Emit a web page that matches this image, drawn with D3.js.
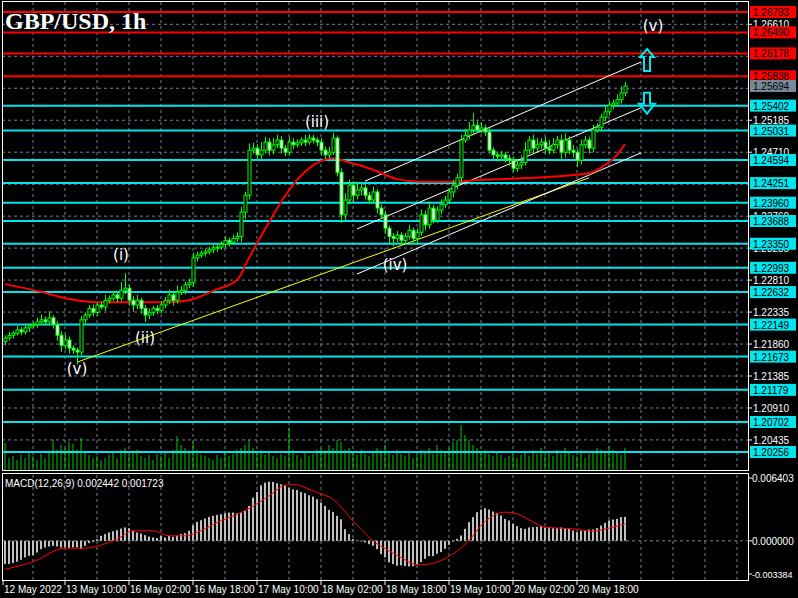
<!DOCTYPE html>
<html>
<head>
<meta charset="utf-8">
<script src="https://cdn.jsdelivr.net/npm/d3@7"></script>
<style>
  body { margin: 0; background: #000; }
  svg { display: block; font-family: 'Liberation Sans', Arial, sans-serif; }
</style>
</head>
<body>
<svg id="chart" width="798" height="598"></svg>
<script>
// hourly closes, 12 May 19:00 .. 20 May 22:00
const firstOpen = 1.2190
const closes = [
  1.2195, 1.2199, 1.2202, 1.2207, 1.2204, 1.2210, 1.2213, 1.2215, 1.2219, 1.2222,
  1.2219, 1.2225, 1.2215, 1.2199, 1.2184, 1.2192, 1.2180, 1.2177, 1.2174, 1.2222,
  1.2229, 1.2239, 1.2233, 1.2244, 1.2241, 1.2251, 1.2254, 1.2259, 1.2254, 1.2266,
  1.2269, 1.2251, 1.2244, 1.2251, 1.2239, 1.2229, 1.2233, 1.2239, 1.2236, 1.2244,
  1.2251, 1.2259, 1.2251, 1.2263, 1.2266, 1.2274, 1.2277, 1.2314, 1.2318, 1.2321,
  1.2323, 1.2326, 1.2329, 1.2330, 1.2334, 1.2340, 1.2337, 1.2343, 1.2346, 1.2382,
  1.2407, 1.2474, 1.2477, 1.2467, 1.2474, 1.2486, 1.2474, 1.2482, 1.2489, 1.2477,
  1.2471, 1.2486, 1.2482, 1.2485, 1.2489, 1.2486, 1.2492, 1.2489, 1.2486, 1.2474,
  1.2467, 1.2471, 1.2492, 1.2441, 1.2378, 1.2400, 1.2422, 1.2407, 1.2415, 1.2418,
  1.2407, 1.2400, 1.2412, 1.2388, 1.2378, 1.2358, 1.2346, 1.2343, 1.2348, 1.2340,
  1.2346, 1.2355, 1.2343, 1.2352, 1.2378, 1.2363, 1.2388, 1.2370, 1.2385, 1.2393,
  1.2400, 1.2412, 1.2422, 1.2433, 1.2489, 1.2496, 1.2504, 1.2511, 1.2504, 1.2507,
  1.2501, 1.2474, 1.2467, 1.2465, 1.2467, 1.2462, 1.2459, 1.2447, 1.2452, 1.2456,
  1.2474, 1.2489, 1.2477, 1.2482, 1.2486, 1.2477, 1.2474, 1.2482, 1.2489, 1.2471,
  1.2489, 1.2474, 1.2471, 1.2459, 1.2482, 1.2489, 1.2477, 1.2504, 1.2508, 1.2523,
  1.2531, 1.2541, 1.2544, 1.2549, 1.2559, 1.25694
]
// wick lengths in pips
const upWick = [
  4, 5, 3, 6, 4, 5, 3, 4, 6, 8,
  5, 10, 4, 5, 6, 8, 5, 4, 3, 6,
  4, 5, 6, 4, 5, 8, 4, 6, 5, 12,
  22, 5, 6, 8, 4, 5, 6, 4, 5, 6,
  5, 8, 4, 10, 6, 5, 6, 8, 5, 4,
  5, 4, 6, 4, 5, 6, 4, 5, 6, 8,
  5, 10, 8, 6, 12, 8, 6, 10, 8, 6,
  5, 8, 6, 5, 4, 8, 6, 5, 4, 6,
  5, 8, 8, 4, 6, 10, 8, 6, 12, 8,
  6, 5, 8, 4, 5, 6, 4, 5, 6, 4,
  5, 8, 4, 6, 8, 6, 10, 5, 6, 8,
  6, 5, 8, 6, 8, 10, 12, 18, 6, 8,
  5, 6, 4, 5, 6, 4, 5, 6, 8, 10,
  12, 6, 8, 10, 6, 8, 12, 10, 6, 8,
  10, 6, 8, 5, 8, 6, 5, 8, 6, 5,
  8, 6, 5, 8, 10, 6
]
const dnWick = [
  6, 4, 5, 3, 5, 4, 6, 4, 5, 4,
  6, 5, 6, 8, 10, 6, 8, 6, 18, 5,
  6, 4, 6, 5, 4, 6, 5, 4, 6, 5,
  6, 8, 10, 6, 8, 10, 6, 5, 6, 4,
  5, 6, 8, 5, 4, 6, 5, 6, 5, 4,
  5, 4, 5, 6, 4, 5, 6, 4, 5, 8,
  10, 6, 5, 8, 6, 5, 8, 6, 5, 8,
  6, 5, 6, 4, 5, 6, 4, 5, 6, 8,
  6, 5, 4, 6, 12, 8, 6, 10, 6, 8,
  6, 5, 6, 8, 6, 8, 10, 12, 6, 8,
  6, 5, 8, 6, 5, 8, 6, 5, 4, 6,
  5, 6, 8, 6, 5, 4, 6, 5, 4, 5,
  6, 5, 6, 8, 5, 6, 8, 6, 5, 6,
  5, 6, 8, 5, 6, 8, 6, 5, 6, 10,
  8, 6, 8, 10, 6, 5, 8, 6, 4, 5,
  6, 5, 6, 5, 6, 5
]
const volumes = [
  27, 12, 14, 10, 15, 12, 18, 14, 10, 16,
  12, 18, 30, 20, 25, 22, 28, 26, 20, 32,
  18, 15, 12, 14, 10, 12, 15, 18, 12, 20,
  22, 15, 18, 20, 14, 12, 15, 10, 16, 14,
  18, 12, 20, 34, 25, 22, 18, 28, 20, 15,
  14, 12, 10, 15, 12, 18, 14, 16, 20, 22,
  25, 30, 22, 18, 20, 15, 18, 14, 12, 16,
  14, 42, 20, 15, 12, 18, 14, 16, 20, 22,
  18, 25, 22, 30, 28, 20, 22, 18, 15, 20,
  16, 14, 18, 22, 20, 25, 18, 15, 20, 16,
  14, 18, 12, 15, 20, 18, 22, 16, 25, 20,
  18, 22, 28, 30, 45, 35, 30, 25, 22, 18,
  20, 16, 14, 18, 15, 12, 14, 16, 12, 15,
  18, 14, 20, 16, 22, 15, 18, 14, 20, 16,
  22, 18, 15, 14, 20, 12, 16, 18, 22, 20,
  18, 24, 20, 18, 15, 22
]
// moving average read at bar indices
const maIndex = [0, 8, 16, 24, 32, 40, 46, 52, 58, 61, 66, 70, 74, 78, 82, 86, 92, 98, 104, 110, 120, 132, 140, 146, 150, 153, 155]
const maValue = [1.2275, 1.2265, 1.2253, 1.2248, 1.2248, 1.2248, 1.2251, 1.2265, 1.2281, 1.2314, 1.2367, 1.2406, 1.2436, 1.2455, 1.2462, 1.2456, 1.2445, 1.2431, 1.2427, 1.2427, 1.2430, 1.2433, 1.2436, 1.2440, 1.2452, 1.2467, 1.2483]
// MACD main (x1e-3)
const macdMain = [
  -2.37, -2.37, -2.27, -2.14, -1.93, -1.69, -1.53, -1.46, -1.19, -0.85,
  -0.68, -0.58, -0.51, -0.58, -0.68, -0.68, -0.75, -0.68, -0.68, -0.85,
  -0.51, -0.24, -0.10, 0.17, 0.51, 0.68, 0.85, 0.98, 1.08, 1.25,
  1.36, 1.29, 1.02, 0.85, 0.75, 0.58, 0.44, 0.34, 0.27, 0.51,
  0.34, 0.51, 0.41, 0.51, 0.68, 0.78, 1.02, 1.59, 1.93, 2.10,
  2.27, 2.44, 2.54, 2.64, 2.71, 2.81, 2.88, 2.88, 2.81, 2.88,
  3.05, 3.56, 4.41, 4.98, 5.66, 5.93, 6.03, 6.00, 5.86, 5.76,
  5.66, 5.42, 5.25, 5.19, 4.98, 4.85, 4.64, 4.51, 4.24, 3.90,
  3.56, 3.15, 2.95, 2.54, 2.20, 1.19, 0.68, 0.17, 0.02, -0.07,
  -0.17, -0.34, -0.51, -0.85, -1.36, -1.69, -2.20, -2.37, -2.54, -2.51,
  -2.58, -2.61, -2.58, -2.44, -2.17, -1.83, -1.56, -1.56, -1.32, -1.15,
  -0.81, -0.41, -0.07, 0.20, 0.54, 1.22, 1.90, 2.41, 2.92, 3.19,
  3.32, 3.19, 2.98, 2.85, 2.58, 2.24, 2.07, 1.73, 1.49, 1.29,
  1.22, 1.36, 1.39, 1.42, 1.49, 1.36, 1.29, 1.29, 1.29, 1.36,
  1.29, 1.22, 1.05, 0.88, 1.05, 1.05, 1.15, 1.15, 1.29, 1.56,
  1.83, 2.07, 2.17, 2.24, 2.41, 2.44
]
const signalIndex = [0, 7, 15, 20, 24, 28, 32, 37, 41, 45, 49, 53, 57, 61, 66, 70, 72, 78, 82, 87, 92, 96, 99, 102, 104, 108, 112, 116, 119, 123, 125, 128, 132, 135, 142, 147, 151, 155]
const signalValue = [-2.9, -2.14, -0.75, -0.75, -0.44, 0.17, 1.02, 1.02, 0.51, 0.51, 1.02, 1.86, 2.54, 3.29, 4.58, 5.66, 5.73, 4.92, 4.24, 2.03, 0, -1.02, -1.69, -2.34, -2.44, -2.17, -1.32, 0.03, 1.56, 2.75, 2.92, 2.75, 1.90, 1.39, 1.22, 0.98, 1.29, 1.72]

const redLevels = [1.26793, 1.26490, 1.26178, 1.25838]
const cyanLevels = [1.25402, 1.25031, 1.24594, 1.24251, 1.23960, 1.23688, 1.23350, 1.22993, 1.22632, 1.22149, 1.21673, 1.21179, 1.20702, 1.20256]
const bidPrice = 1.25694
const priceTicks = [1.26610, 1.25185, 1.24710, 1.23760, 1.23285, 1.22810, 1.22335, 1.21860, 1.21385, 1.20910, 1.20435]
const gridPrices = [1.26610, 1.26135, 1.25660, 1.25185, 1.24710, 1.24235, 1.23760, 1.23285, 1.22810, 1.22335, 1.21860, 1.21385, 1.20910, 1.20435]
const timeLabels = [[-0.5, '12 May 2022'], [15, '13 May 10:00'], [31, '16 May 02:00'], [47, '16 May 18:00'], [63, '17 May 10:00'], [79, '18 May 02:00'], [95, '18 May 18:00'], [111, '19 May 10:00'], [127, '20 May 02:00'], [143, '20 May 18:00']]
const trendLines = [
  { from: [18, 1.2159], to: [146, 1.2433], color: '#ffff00' },
  { from: [90, 1.2428], to: [159, 1.2605], color: '#ffffff' },
  { from: [88, 1.2357], to: [159, 1.2537], color: '#ffffff' },
  { from: [88, 1.2290], to: [159, 1.2470], color: '#ffffff' }
]
const waveLabels = [['(v)', 162, 1.2658], ['(iii)', 78, 1.2516], ['(iv)', 97.5, 1.2303], ['(i)', 29, 1.2318], ['(ii)', 35, 1.2195], ['(v)', 18, 1.2149]]

const svg = d3.select('#chart')
const x = d3.scaleLinear().domain([0, 155]).range([5, 625])
const y = d3.scaleLinear().domain([1.26793, 1.20256]).range([12, 452])
const ym = d3.scaleLinear().domain([0.006403, -0.003384]).range([478, 574])
const yv = d3.scaleLinear().domain([0, 50]).range([470, 420])
const gridColor = '#6f8296'

// grid
const grid = svg.append('g')
for (let i = 7; i < 186; i += 8) {
  grid.append('line').attr('x1', x(i)).attr('x2', x(i)).attr('y1', 2).attr('y2', 470)
  grid.append('line').attr('x1', x(i)).attr('x2', x(i)).attr('y1', 475).attr('y2', 580)
}
gridPrices.forEach((p) => grid.append('line').attr('x1', 2).attr('x2', 748).attr('y1', y(p)).attr('y2', y(p)))
grid.append('line').attr('x1', 2).attr('x2', 748).attr('y1', ym(0)).attr('y2', ym(0))
grid.selectAll('line').attr('stroke', gridColor).attr('stroke-dasharray', '3,3')

// volumes
svg.append('g').selectAll('line').data(volumes).enter().append('line')
  .attr('x1', (d, i) => x(i)).attr('x2', (d, i) => x(i))
  .attr('y1', 470).attr('y2', (d) => yv(d))
  .attr('stroke', '#00c800').attr('stroke-width', 1)

// levels
svg.append('g').selectAll('line').data(redLevels.concat(cyanLevels)).enter().append('line')
  .attr('x1', 2).attr('x2', 748)
  .attr('y1', (d) => y(d)).attr('y2', (d) => y(d))
  .attr('stroke', (d, i) => (i < redLevels.length ? '#ff0000' : '#00e5ee'))
  .attr('stroke-width', 2)

// trend lines
trendLines.forEach((t) => {
  svg.append('line')
    .attr('x1', x(t.from[0])).attr('y1', y(t.from[1]))
    .attr('x2', x(t.to[0])).attr('y2', y(t.to[1]))
    .attr('stroke', t.color).attr('stroke-width', 1)
})

// moving average
svg.append('path')
  .datum(maIndex.map((d, i) => [d, maValue[i]]))
  .attr('d', d3.line().x((d) => x(d[0])).y((d) => y(d[1])).curve(d3.curveMonotoneX))
  .attr('fill', 'none').attr('stroke', '#ff0000').attr('stroke-width', 2)

// candles
const candles = closes.map((c, i) => {
  const o = i === 0 ? firstOpen : closes[i - 1]
  return { i, o, c, h: Math.max(o, c) + upWick[i] / 10000, l: Math.min(o, c) - dnWick[i] / 10000 }
})
const cg = svg.append('g').selectAll('g').data(candles).enter().append('g')
cg.append('line')
  .attr('x1', (d) => x(d.i) + 0.5).attr('x2', (d) => x(d.i) + 0.5)
  .attr('y1', (d) => y(d.h)).attr('y2', (d) => y(d.l))
  .attr('stroke', '#00ff00')
cg.append('rect')
  .attr('x', (d) => x(d.i) - 1).attr('width', 3)
  .attr('y', (d) => y(Math.max(d.o, d.c)))
  .attr('height', (d) => Math.max(1, Math.abs(y(d.o) - y(d.c))))
  .attr('fill', (d) => (d.c >= d.o ? '#000' : '#fff'))
  .attr('stroke', '#00ff00').attr('stroke-width', 1)

// wave labels
svg.append('g').selectAll('text').data(waveLabels).enter().append('text')
  .attr('x', (d) => x(d[1])).attr('y', (d) => y(d[2]) + 5)
  .attr('text-anchor', 'middle').attr('fill', '#fff').attr('font-size', 15)
  .style('font-family', 'DejaVu Sans')
  .text((d) => d[0])

// arrows
const ax = x(160.5)
const up = [[0, -11], [7, -3], [3, -3], [3, 11], [-3, 11], [-3, -3], [-7, -3]]
const down = [[-3, -11], [3, -11], [3, 0], [8, 0], [0, 10], [-8, 0], [-3, 0]]
svg.append('path')
  .attr('d', 'M' + up.map((p) => [ax + p[0], y(1.2608) + p[1]].join(',')).join('L') + 'Z')
  .attr('fill', 'none').attr('stroke', '#00e5ee').attr('stroke-width', 2)
svg.append('path')
  .attr('d', 'M' + down.map((p) => [ax + p[0], y(1.2543) + p[1]].join(',')).join('L') + 'Z')
  .attr('fill', 'none').attr('stroke', '#00e5ee').attr('stroke-width', 2)

// MACD
svg.append('g').selectAll('rect').data(macdMain).enter().append('rect')
  .attr('x', (d, i) => x(i) - 1).attr('width', 2)
  .attr('y', (d) => Math.min(ym(d / 1000), ym(0)))
  .attr('height', (d) => Math.abs(ym(d / 1000) - ym(0)))
  .attr('fill', '#c0c0c0')
svg.append('path')
  .datum(signalIndex.map((d, i) => [d, signalValue[i]]))
  .attr('d', d3.line().x((d) => x(d[0])).y((d) => ym(d[1] / 1000)).curve(d3.curveMonotoneX))
  .attr('fill', 'none').attr('stroke', '#ff0000').attr('stroke-width', 1)

// frames
svg.append('rect').attr('x', 2.5).attr('y', 1.5).attr('width', 746).attr('height', 469)
  .attr('fill', 'none').attr('stroke', '#fff')
svg.append('rect').attr('x', 2.5).attr('y', 473.5).attr('width', 746).attr('height', 107)
  .attr('fill', 'none').attr('stroke', '#fff')

// right price axis
const ra = svg.append('g').attr('font-size', 10)
priceTicks.forEach((p) => {
  ra.append('line').attr('x1', 748).attr('x2', 752).attr('y1', y(p)).attr('y2', y(p)).attr('stroke', '#fff')
  ra.append('text').attr('x', 753).attr('y', y(p) + 4).attr('fill', '#fff').text(p.toFixed(5))
})
const boxes = redLevels.map((p) => [p, '#ff0000'])
  .concat([[bidPrice, '#778899']])
  .concat(cyanLevels.map((p) => [p, '#00e5ee']))
boxes.forEach((b) => {
  ra.append('rect').attr('x', 750).attr('y', y(b[0]) - 6).attr('width', 46).attr('height', 12).attr('fill', b[1])
  ra.append('text').attr('x', 753).attr('y', y(b[0]) + 4).attr('fill', '#000').text(b[0].toFixed(5))
})
;[0.006403, 0, -0.003384].forEach((v) => {
  ra.append('line').attr('x1', 748).attr('x2', 752).attr('y1', ym(v)).attr('y2', ym(v)).attr('stroke', '#fff')
  ra.append('text').attr('x', 752).attr('y', ym(v) + 4).attr('fill', '#fff')
    .attr('font-size', v < 0 ? 9 : 10).text(v.toFixed(6))
})

// time axis
const ta = svg.append('g').attr('font-size', 10)
timeLabels.forEach((t) => {
  const tx = t[0] < 0 ? 3 : x(t[0])
  ta.append('line').attr('x1', tx).attr('x2', tx).attr('y1', 581).attr('y2', 585).attr('stroke', '#fff')
  ta.append('text').attr('x', tx + 1).attr('y', 593).attr('fill', '#fff').text(t[1])
})

// titles
svg.append('text').attr('x', 5).attr('y', 29).attr('fill', '#fff')
  .style('font-family', 'Liberation Serif').attr('font-weight', 'bold').attr('font-size', 24)
  .text('GBP/USD, 1h')
svg.append('text').attr('x', 5).attr('y', 487).attr('fill', '#fff').attr('font-size', 10)
  .text('MACD(12,26,9) 0.002442 0.001723')
</script>
</body>
</html>
